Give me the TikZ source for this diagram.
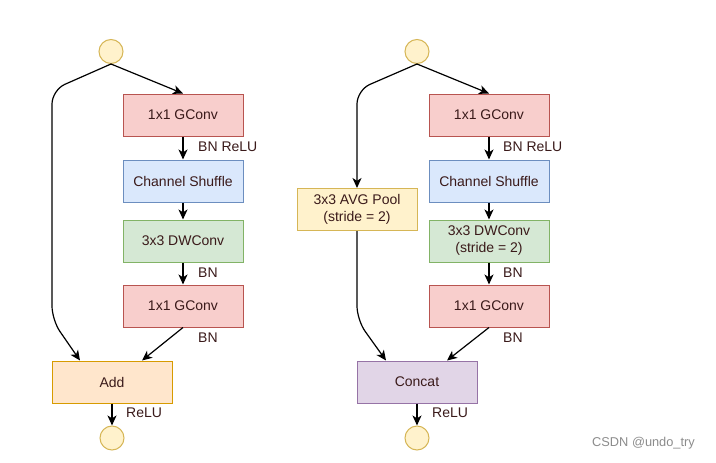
\documentclass[tikz,border=0pt]{standalone}
\usepackage{fontspec}
\setmainfont{Liberation Sans}
\usetikzlibrary{arrows.meta}
\definecolor{redF}{HTML}{F8CECC}\definecolor{redD}{HTML}{B85450}
\definecolor{bluF}{HTML}{DAE8FC}\definecolor{bluD}{HTML}{6C8EBF}
\definecolor{grnF}{HTML}{D5E8D4}\definecolor{grnD}{HTML}{82B366}
\definecolor{orgF}{HTML}{FFE6CC}\definecolor{orgD}{HTML}{D79B00}
\definecolor{ylwF}{HTML}{FFF2CC}\definecolor{ylwD}{HTML}{D6B656}
\definecolor{purF}{HTML}{E1D5E7}\definecolor{purD}{HTML}{9673A6}
\definecolor{txt}{HTML}{3A1A1A}
\begin{document}
\begin{tikzpicture}[x=1pt,y=-1pt,
  box/.style={draw, line width=1pt, minimum width=120pt, minimum height=42pt, inner sep=0pt, text=txt, align=center, font=\fontsize{14}{17}\selectfont},
  redbox/.style={box, fill=redF, draw=redD},
  blubox/.style={box, fill=bluF, draw=bluD},
  grnbox/.style={box, fill=grnF, draw=grnD},
  orgbox/.style={box, fill=orgF, draw=orgD},
  ylwbox/.style={box, fill=ylwF, draw=ylwD},
  purbox/.style={box, fill=purF, draw=purD},
  io/.style={circle, draw=ylwD, fill=ylwF, line width=1pt, minimum size=24pt, inner sep=0pt},
  lbl/.style={anchor=west, inner sep=0pt, text=txt, font=\fontsize{14}{17}\selectfont},
  arr/.style={draw=black, line width=1.2pt, -{Stealth[length=10pt,width=9pt,inset=2.8pt]}},
]
\useasboundingbox (0,0) rectangle (716,463);
\fill[white] (0,0) rectangle (716,463);

% ---- left unit ----
\node[io] (c1) at (111,51.5) {};
\node[redbox] (g1) at (183,115) {1x1 GConv};
\node[blubox] (cs) at (183,181) {Channel Shuffle};
\node[grnbox] (dw) at (183,241) {3x3 DWConv};
\node[redbox] (g2) at (183,306) {1x1 GConv};
\node[orgbox] (add) at (112,382) {Add};
\node[io] (c2) at (112,438) {};
\coordinate (l1) at (52,90);
\coordinate (l2) at (52,320);

\draw[arr] (c1.south) -- (g1.north);
\draw[arr, rounded corners=14pt] (c1.south) -- (l1) -- (l2) -- ([xshift=-32pt]add.north);
\draw[arr] (g1) -- (cs);
\draw[arr] (cs) -- (dw);
\draw[arr] (dw) -- (g2);
\draw[arr] (g2.south) -- ([xshift=30pt]add.north);
\draw[arr] (add) -- (c2);

\node[lbl] (lb1) at (198,146.5) {BN ReLU};
\node[lbl] (lb2) at (198,273) {BN};
\node[lbl] (lb3) at (198,337.5) {BN};
\node[lbl] (lb4) at (126,412.5) {ReLU};

% ---- right unit ----
\node[io] (c3) at (417,51.5) {};
\node[redbox] (rg1) at (489,115) {1x1 GConv};
\node[blubox] (rcs) at (489,181) {Channel Shuffle};
\node[grnbox] (rdw) at (489,241) {3x3 DWConv\\(stride = 2)};
\node[redbox] (rg2) at (489,306) {1x1 GConv};
\node[ylwbox] (pool) at (357,209.5) {3x3 AVG Pool\\(stride = 2)};
\node[purbox] (cat) at (417,382) {Concat};
\node[io] (c4) at (417,438) {};
\coordinate (r1) at (357,90);
\coordinate (r2) at (357,320);

\draw[arr] (c3.south) -- (rg1.north);
\draw[arr, rounded corners=14pt] (c3.south) -- (r1) -- (pool.north);
\draw[arr, rounded corners=14pt] (pool.south) -- (r2) -- ([xshift=-31pt]cat.north);
\draw[arr] (rg1) -- (rcs);
\draw[arr] (rcs) -- (rdw);
\draw[arr] (rdw) -- (rg2);
\draw[arr] (rg2.south) -- ([xshift=30pt]cat.north);
\draw[arr] (cat) -- (c4);

\node[lbl] (rb1) at (503,146.5) {BN ReLU};
\node[lbl] (rb2) at (503,273) {BN};
\node[lbl] (rb3) at (503,337.5) {BN};
\node[lbl] (rb4) at (432,412.5) {ReLU};

\node[anchor=west, inner sep=0pt, text=black!45, font=\fontsize{12.8}{15}\selectfont] (wm) at (592,443) {CSDN @undo\_try};
\end{tikzpicture}
\end{document}
